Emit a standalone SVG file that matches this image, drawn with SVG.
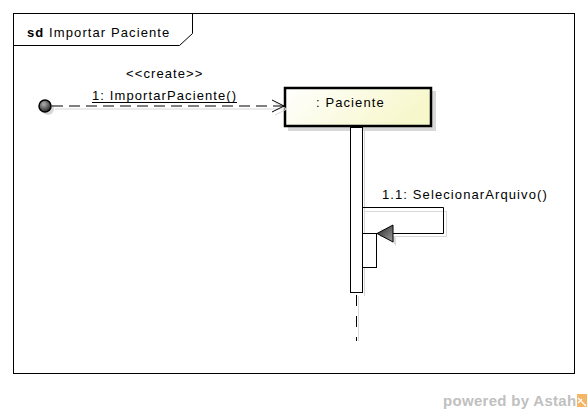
<svg xmlns="http://www.w3.org/2000/svg" width="588" height="413" viewBox="0 0 588 413">
<defs>
<linearGradient id="boxg" x1="0" y1="0" x2="1" y2="0.3">
<stop offset="0" stop-color="#ffffff"/>
<stop offset="1" stop-color="#f7f7cc"/>
</linearGradient>
<radialGradient id="dotg" cx="0.4" cy="0.35" r="0.7">
<stop offset="0" stop-color="#b0b0b0"/>
<stop offset="1" stop-color="#202020"/>
</radialGradient>
<linearGradient id="arrg" x1="0" y1="0" x2="1" y2="1">
<stop offset="0" stop-color="#202020"/>
<stop offset="1" stop-color="#a0a0a0"/>
</linearGradient>
<marker id="open" markerWidth="14" markerHeight="14" refX="13" refY="7" orient="auto" markerUnits="userSpaceOnUse">
<path d="M1,1 L13,7 L1,13" fill="none" stroke="#000" stroke-width="1"/>
</marker>
<marker id="openS" markerWidth="14" markerHeight="14" refX="13" refY="7" orient="auto" markerUnits="userSpaceOnUse">
<path d="M1,1 L13,7 L1,13" fill="none" stroke="#d8d8d8" stroke-width="1"/>
</marker>
</defs>
<style>
text{font-family:"Liberation Sans",Arial,sans-serif;font-size:13px;letter-spacing:1.1px;fill:#000}
.sh{stroke:#d8d8d8;fill:none}
.ln{stroke:#000;fill:none;stroke-width:1}
</style>
<rect width="588" height="413" fill="#fff"/>
<g id="frame">
<rect x="13.5" y="13.5" width="561" height="360" fill="none" stroke="#000"/>
<path d="M13.5,45.5 H179.5 L192.5,33.5 V13.5" fill="none" stroke="#000"/>
<text x="27" y="37"><tspan font-weight="bold">sd</tspan> Importar Paciente</text>
</g>
<g id="start">
<circle cx="48" cy="109" r="6" fill="#d8d8d8"/>
<circle cx="45" cy="106" r="6" fill="url(#dotg)" stroke="#000" stroke-width="1.5"/>
</g>
<g id="paciente">
<rect x="288" y="91" width="148" height="40" fill="#d8d8d8"/>
<rect x="285" y="88" width="146" height="38" fill="url(#boxg)" stroke="#000" stroke-width="2.5"/>
<text x="316" y="107">: Paciente</text>
<path class="sh" d="M364.5,131 V296 M358.5,296 V341"/>
<path class="ln" d="M356.5,295 V341" stroke-dasharray="11,10"/>
<rect x="350.5" y="127.5" width="12" height="165" fill="#fff" stroke="#000"/>
<path class="sh" d="M364,211.5 H446.5 V236.5 H380"/>
<rect x="362.5" y="233.5" width="14" height="34" fill="#fff" stroke="#000"/>
</g>
<g id="connectors">
<path d="M55,109 H287" class="sh" marker-end="url(#openS)"/>
<path d="M52,106 H284" class="ln" stroke-dasharray="11,6" marker-end="url(#open)"/>
<text x="126" y="78">&lt;&lt;create&gt;&gt;</text>
<text x="92" y="100">1: ImportarPaciente()</text>
<path d="M92,102.5 H237" stroke="#000" stroke-width="1"/>
<path d="M363,207.5 H443.5 V233.5 H392" class="ln"/>
<path d="M380,228 L396,238 L396,246 Z" fill="#d8d8d8"/>
<path d="M377,233.5 L393,225 L393,242 Z" fill="url(#arrg)" stroke="#000" stroke-width="1"/>
<text x="382" y="199">1.1: SelecionarArquivo()</text>
</g>
<g id="footer">
<text x="443" y="406" font-weight="bold" style="fill:#c0c0c0;font-size:15px;letter-spacing:0.3px">powered by Astah</text>
<rect x="577" y="394" width="10" height="13" fill="#f5b567"/>
<path d="M578,398 L586,406 M578,403 L582,399" stroke="#fff" stroke-width="1.2"/>
</g>
</svg>
